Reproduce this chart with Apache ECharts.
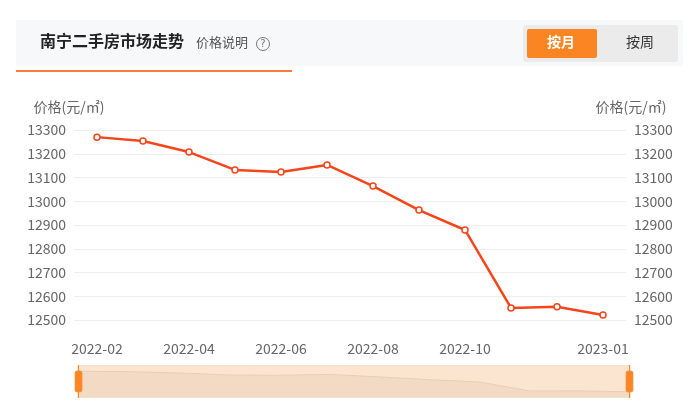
<!DOCTYPE html>
<html>
<head>
<meta charset="utf-8">
<script src="https://cdn.jsdelivr.net/npm/echarts@6/dist/echarts.min.js"></script>
<style>html,body{margin:0;padding:0;background:#fff}#main{width:700px;height:414px}</style>
</head>
<body>
<div id="main"></div>
<script>
var months = ['2022-02','2022-03','2022-04','2022-05','2022-06','2022-07','2022-08','2022-09','2022-10','2022-11','2022-12','2023-01'];
var prices = [13270,13254,13207,13132,13123,13153,13064,12963,12879,12551,12556,12521];
var yTicks = {min: 12500, max: 13300, step: 100};

var myChart = echarts.init(document.getElementById('main'));
var font = '"Noto Sans CJK SC", sans-serif';
var yAxisBase = {
	type : 'value',
	min : yTicks.min,
	max : yTicks.max,
	interval : yTicks.step,
	name : '价格(元/㎡)',
	nameGap : 16,
	axisLine : { show : false },
	axisTick : { show : false },
	axisLabel : { color : '#666', fontSize : 14, fontFamily : font, formatter : function(v) { return String(v); } }
};
var option = {
	textStyle : { fontFamily : font },
	graphic : [
		{ type : 'rect', shape : { x : 16, y : 20, width : 667, height : 46 }, style : { fill : '#f7f8fa' } },
		{ type : 'rect', shape : { x : 16, y : 70, width : 276, height : 2 }, style : { fill : '#ff7a3d' } },
		{ type : 'text', left : 40, top : 33, style : { text : '南宁二手房市场走势', fill : '#222', font : 'bold 16px ' + font } },
		{ type : 'text', left : 196, top : 36, style : { text : '价格说明', fill : '#555', font : '13px ' + font } },
		{ type : 'circle', shape : { cx : 263, cy : 44, r : 6.5 }, style : { fill : 'none', stroke : '#777', lineWidth : 1 } },
		{ type : 'text', x : 263, y : 44.5, style : { text : '?', fill : '#777', font : '10px "DejaVu Sans"', align : 'center', verticalAlign : 'middle' } },
		{ type : 'rect', shape : { x : 523, y : 25, width : 155, height : 37, r : 3 }, style : { fill : '#ebebeb' } },
		{ type : 'rect', shape : { x : 527, y : 29, width : 70, height : 29, r : 2 }, style : { fill : '#fb8522' } },
		{ type : 'text', left : 547, top : 35, style : { text : '按月', fill : '#fff', font : 'bold 14px ' + font } },
		{ type : 'text', left : 626, top : 35, style : { text : '按周', fill : '#333', font : '14px ' + font } }
	],
	grid : { left : 74, right : 74, top : 130, bottom : 94 },
	xAxis : [ {
		type : 'category',
		data : months,
		boundaryGap : true,
		axisLine : { show : false },
		axisTick : { show : false },
		axisLabel : {
			color : '#666', fontSize : 14, fontFamily : font, margin : 22,
			interval : function(i) { return (i % 2 === 0 && i !== 10) || i === 11; }
		}
	} ],
	yAxis : [
		Object.assign({}, yAxisBase, {
			position : 'left',
			nameTextStyle : { color : '#666', fontSize : 14, fontFamily : font, align : 'center', padding : [0, 0, 0, -10] },
			splitLine : { lineStyle : { color : '#eee' } }
		}),
		Object.assign({}, yAxisBase, {
			position : 'right',
			nameTextStyle : { color : '#666', fontSize : 14, fontFamily : font, align : 'center', padding : [0, -10, 0, 0] },
			splitLine : { show : false }
		})
	],
	dataZoom : [ {
		type : 'slider',
		left : 75, right : 72, bottom : 16, height : 33,
		start : 0, end : 100,
		borderColor : '#f0e0cc',
		backgroundColor : '#fde6d0',
		fillerColor : 'rgba(253,230,208,0.3)',
		handleStyle : { color : '#fb8522', borderColor : '#fb8522' },
		moveHandleSize : 0,
		showDetail : false,
		dataBackground : {
			lineStyle : { color : '#e0c4a8', width : 1 },
			areaStyle : { color : '#efd6c0', opacity : 1 }
		},
		selectedDataBackground : {
			lineStyle : { color : '#e0c4a8', width : 1 },
			areaStyle : { color : '#efd6c0', opacity : 1 }
		}
	} ],
	series : [ {
		type : 'line',
		data : prices,
		symbol : 'circle',
		symbolSize : 6,
		itemStyle : { color : '#fff', borderColor : '#f5451a', borderWidth : 1.5 },
		lineStyle : { color : '#f5451a', width : 2.5 }
	} ]
};
myChart.setOption(option);
</script>
</body>
</html>
